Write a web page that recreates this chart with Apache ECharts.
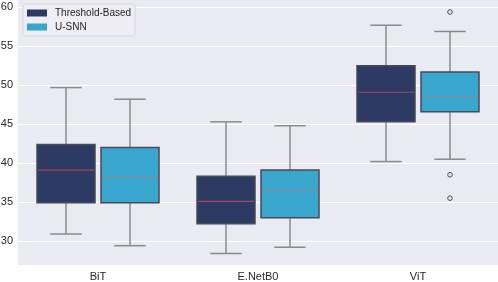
<!DOCTYPE html>
<html><head><meta charset="utf-8">
<script src="https://cdn.jsdelivr.net/npm/echarts@6/dist/echarts.min.js"></script>
<style>html,body{margin:0;padding:0;background:#fff}#c{width:498px;height:282px}</style>
</head><body><div id="c"></div>
<script>
const categories = ["BiT", "E.NetB0", "ViT"];
const seriesNames = ["Threshold-Based", "U-SNN"];
// [lower whisker, Q1, median, Q3, upper whisker]
const thresholdStats = [
  [30.9, 34.9, 39.1, 42.4, 49.7],
  [28.4, 32.2, 35.1, 38.3, 45.3],
  [40.2, 45.3, 49.1, 52.5, 57.7]
];
const usnnStats = [
  [29.4, 34.9, 38.2, 42.0, 48.2],
  [29.2, 33.0, 36.5, 39.1, 44.8],
  [40.5, 46.6, 48.5, 51.7, 56.9]
];
// [category index, value]
const thresholdOutliers = [];
const usnnOutliers = [[2, 59.4], [2, 38.5], [2, 35.5]];

const FONT = '"Liberation Sans", Arial, sans-serif';
const BAND_BOX = 0.3625, OFFSET = 0.2;

function boxSeries(name, stats, offsetFrac, fill, medColor) {
  return {
    type: 'custom', name: name,
    itemStyle: { color: fill },
    encode: { x: 0, y: [1, 2, 3, 4, 5] },
    data: stats.map((s, i) => [i].concat(s)),
    renderItem: function (params, api) {
      const ci = api.value(0);
      const band = api.size([1, 0])[0];
      const cx = api.coord([ci, 0])[0] + offsetFrac * band;
      const w = band * BAND_BOX;
      const y = [1, 2, 3, 4, 5].map(k => api.coord([ci, api.value(k)])[1]);
      const whisk = { stroke: '#8a8a8a', lineWidth: 1.5 };
      const cap = w * 0.27;
      return {
        type: 'group', children: [
          { type: 'line', shape: { x1: cx, y1: y[0], x2: cx, y2: y[1] }, style: whisk },
          { type: 'line', shape: { x1: cx, y1: y[3], x2: cx, y2: y[4] }, style: whisk },
          { type: 'line', shape: { x1: cx - cap, y1: y[0], x2: cx + cap, y2: y[0] }, style: whisk },
          { type: 'line', shape: { x1: cx - cap, y1: y[4], x2: cx + cap, y2: y[4] }, style: whisk },
          { type: 'rect', shape: { x: cx - w / 2, y: y[3], width: w, height: y[1] - y[3] },
            style: { fill: fill, stroke: '#474b55', lineWidth: 1.5 } },
          { type: 'line', shape: { x1: cx - w / 2 + 1, y1: y[2], x2: cx + w / 2 - 1, y2: y[2] },
            style: { stroke: medColor, lineWidth: 1.2 } }
        ]
      };
    }
  };
}
function outlierSeries(pts, offsetFrac) {
  return {
    type: 'custom', name: 'outliers',
    encode: { x: 0, y: 1 },
    data: pts,
    renderItem: function (params, api) {
      const ci = api.value(0);
      const band = api.size([1, 0])[0];
      const p = api.coord([ci, api.value(1)]);
      return { type: 'circle', shape: { cx: p[0] + offsetFrac * band, cy: p[1], r: 2.3 },
        style: { fill: 'none', stroke: '#4a4a4a', lineWidth: 1 } };
    }
  };
}

const chart = echarts.init(document.getElementById('c'), null, { renderer: 'canvas' });
chart.setOption({
  animation: false,
  backgroundColor: '#ffffff',
  grid: { left: 18, right: 0, top: 0, bottom: 17, containLabel: false, outerBoundsMode: 'none',
    show: true, backgroundColor: '#eaeaf2', borderWidth: 0 },
  legend: {
    data: seriesNames, orient: 'vertical', left: 23, top: 4,
    icon: 'rect', itemWidth: 20, itemHeight: 7, itemGap: 4,
    padding: [4, 4, 4, 4],
    backgroundColor: '#ededf3', borderColor: '#d6d6de', borderWidth: 1, borderRadius: 3,
    textStyle: { fontFamily: FONT, fontSize: 10, color: '#262626', padding: [0, 0, 0, 3] }
  },
  xAxis: {
    type: 'category', data: categories, boundaryGap: true,
    axisLine: { show: false }, axisTick: { show: false },
    axisLabel: { fontFamily: FONT, fontSize: 11, color: '#262626', margin: 6 },
    splitLine: { show: false }
  },
  yAxis: {
    type: 'value', min: 26.92, max: 60.94, minInterval: 5, maxInterval: 5,
    axisLine: { show: false }, axisTick: { show: false },
    axisLabel: { fontFamily: FONT, fontSize: 11, color: '#262626', margin: 5, showMinLabel: false, showMaxLabel: false },
    splitLine: { show: true, showMinLine: false, showMaxLine: false, lineStyle: { color: '#ffffff', width: 1.2 } }
  },
  series: [
    boxSeries(seriesNames[0], thresholdStats, -OFFSET, '#2c3a64', '#a0485f'),
    boxSeries(seriesNames[1], usnnStats, OFFSET, '#39a6cf', '#808a94'),
    outlierSeries(thresholdOutliers, -OFFSET),
    outlierSeries(usnnOutliers, OFFSET)
  ]
});
</script></body></html>
